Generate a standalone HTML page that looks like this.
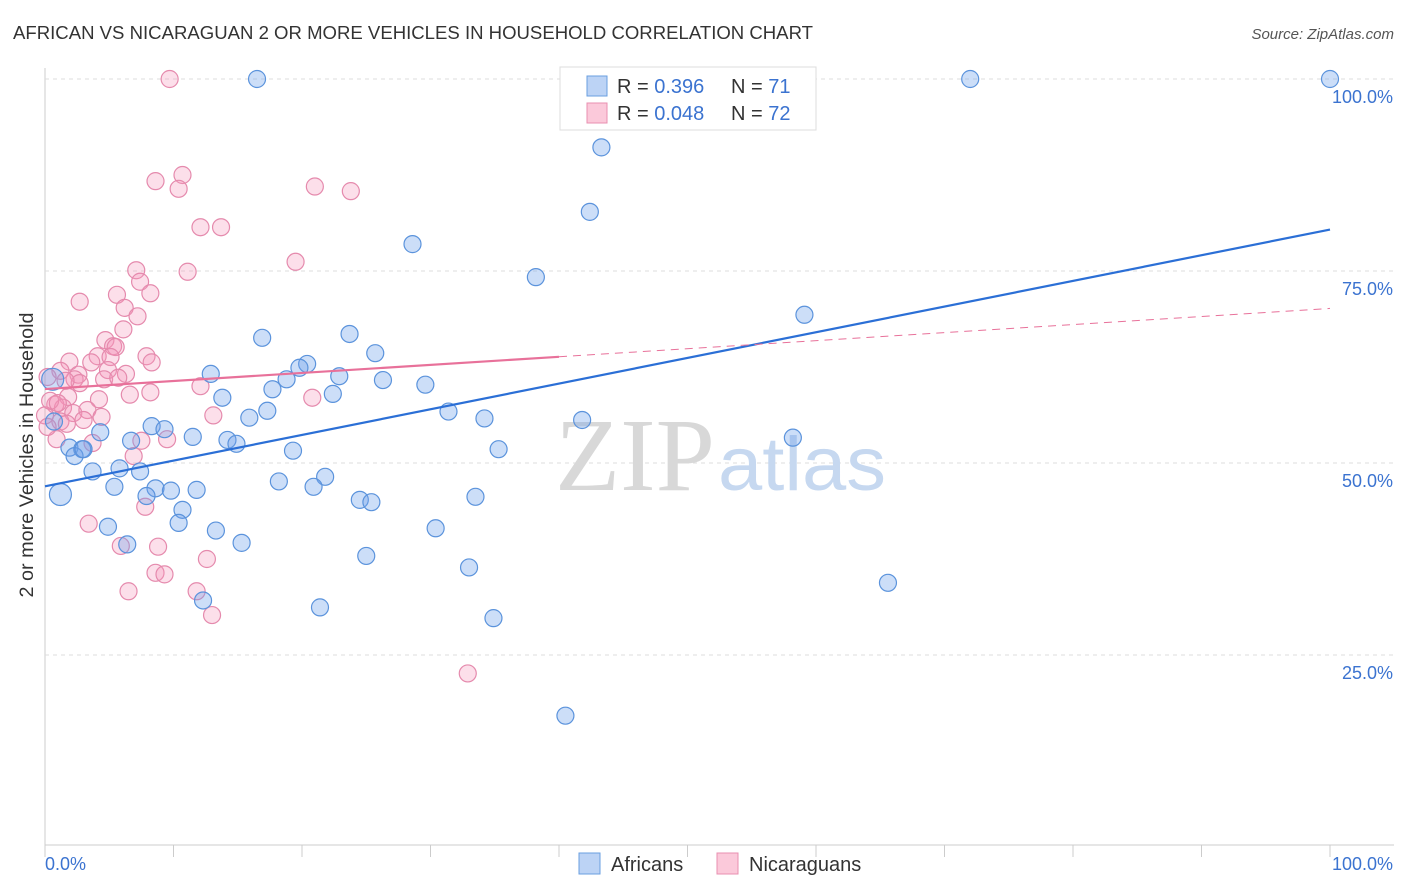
<!DOCTYPE html>
<html><head><meta charset="utf-8"><style>
body{margin:0;background:#fff;font-family:"Liberation Sans",sans-serif}
svg{display:block}
</style></head><body>
<svg id="c" width="1406" height="892" xmlns="http://www.w3.org/2000/svg">
<text x="13" y="39" font-size="18" fill="#333" textLength="800" lengthAdjust="spacingAndGlyphs">AFRICAN VS NICARAGUAN 2 OR MORE VEHICLES IN HOUSEHOLD CORRELATION CHART</text>
<text x="1394" y="39" font-size="15" fill="#555" font-style="italic" text-anchor="end">Source: ZipAtlas.com</text>
<g id="grid"></g>
<text x="555" y="490" font-family="Liberation Serif,serif" font-size="104" fill="#d8d8d8" textLength="160" lengthAdjust="spacingAndGlyphs">ZIP</text>
<text x="718" y="490" font-size="76" fill="#c6d8f0" textLength="168" lengthAdjust="spacingAndGlyphs">atlas</text>
<g id="pts"></g>
<g id="lines"></g>
<text x="33" y="455" font-size="19" fill="#333" text-anchor="middle" textLength="285" lengthAdjust="spacingAndGlyphs" transform="rotate(-90 33 455)">2 or more Vehicles in Household</text>
<g>
<rect x="560" y="67" width="256" height="63" fill="#fff" stroke="#ddd"/>
<rect x="587" y="76" width="20" height="20" fill="#bcd3f5" stroke="#6a9fe0"/>
<rect x="587" y="103" width="20" height="20" fill="#fbc9da" stroke="#e88fb0"/>
<text x="617" y="93" font-size="20" fill="#333">R = <tspan fill="#3b73d0">0.396</tspan><tspan x="731">N = </tspan><tspan fill="#3b73d0">71</tspan></text>
<text x="617" y="120" font-size="20" fill="#333">R = <tspan fill="#3b73d0">0.048</tspan><tspan x="731">N = </tspan><tspan fill="#3b73d0">72</tspan></text>
</g>
<g>
<rect x="579" y="853" width="21" height="21" fill="#bcd3f5" stroke="#6a9fe0"/>
<text x="611" y="871" font-size="20" fill="#333">Africans</text>
<rect x="717" y="853" width="21" height="21" fill="#fbc9da" stroke="#e88fb0"/>
<text x="749" y="871" font-size="20" fill="#333">Nicaraguans</text>
</g>
</svg>
<script>
const xTicks=[0,10,20,30,40,50,60,70,80,90,100];
const yTicks=[25,50,75,100];
const afrX=[16.5,72,100,43.3,42.4,28.6,38.2,16.9,23.7,25.7,59.1,12.9,20.4,19.8,22.9,26.3,18.8,17.7,29.6,22.4,13.8,17.3,15.9,31.4,34.2,41.8,0.6,0.7,11.5,14.2,14.9,6.7,8.3,9.3,19.3,58.2,35.3,4.3,1.9,2.9,2.3,5.8,7.4,3.7,5.4,8.6,9.8,11.8,7.9,18.2,21.8,20.9,24.5,25.4,33.5,1.2,10.7,10.4,4.9,13.3,15.3,6.4,30.4,25,33,65.6,12.3,21.4,34.9,40.5,3];
const afrY=[100,100,100,91.1,82.7,78.5,74.2,66.3,66.8,64.3,69.3,61.6,62.9,62.4,61.3,60.8,60.9,59.6,60.2,59,58.5,56.8,55.9,56.7,55.8,55.6,60.9,55.4,53.4,53,52.5,52.9,54.8,54.4,51.6,53.3,51.8,54,52,51.8,50.9,49.3,48.9,48.9,46.9,46.7,46.4,46.5,45.7,47.6,48.2,46.9,45.2,44.9,45.6,45.9,43.9,42.2,41.7,41.2,39.6,39.4,41.5,37.9,36.4,34.4,32.1,31.2,29.8,17.1,51.8];
const nicX=[9.7,10.7,8.6,10.4,21,23.8,12.1,13.7,19.5,7.1,11.1,7.4,5.6,8.2,2.7,6.2,7.2,6.1,4.7,5.3,5.5,7.9,4.1,1.9,3.6,5.1,8.3,4.9,1.2,2.6,6.3,4.6,5.7,0.2,12.1,2.3,8.2,6.6,1.8,4.2,0.8,1.4,2.2,3.3,4.4,13.1,20.8,1.2,3,0,7.5,9.5,3.7,0.9,6.9,7.8,3.4,5.9,8.8,12.6,8.6,9.3,6.5,11.8,13,32.9,0.4,0.2,1.7,1,2.7,1.6];
const nicY=[100,87.5,86.7,85.7,86,85.4,80.7,80.7,76.2,75.1,74.9,73.6,71.9,72.1,71,70.2,69.1,67.4,66,65.2,65.1,63.9,63.9,63.2,63.1,63.8,63.1,62.1,62,61.5,61.6,60.9,61.1,61.2,60,60.9,59.2,58.9,58.6,58.3,57.6,57.2,56.5,56.9,56,56.2,58.5,55.4,55.6,56.2,52.9,53.1,52.6,53.1,50.9,44.3,42.1,39.2,39.1,37.5,35.7,35.5,33.3,33.3,30.2,22.6,58.1,54.7,55.1,57.8,60.4,60.7];
const X=v=>45+v*12.85, Y=v=>847-v*7.68;
const NS="http://www.w3.org/2000/svg";
function mk(t,a,p){const e=document.createElementNS(NS,t);for(const k in a)e.setAttribute(k,a[k]);p.appendChild(e);return e;}
const g=document.getElementById('grid');
mk('line',{x1:45,y1:845,x2:1394,y2:845,stroke:'#ccc'},g);
mk('line',{x1:45,y1:68,x2:45,y2:845,stroke:'#ccc'},g);
xTicks.forEach(t=>{const l=mk('line',{x1:X(t),y1:845,x2:X(t),y2:857,stroke:'#ccc'},g);

});
yTicks.forEach(t=>{const l=mk('line',{x1:45,y1:Y(t),x2:1394,y2:Y(t),stroke:'#ddd','stroke-dasharray':'4 4'},g);


const tx=mk('text',{x:1393,y:Y(t)+24,'font-size':18,fill:'#3b73d0','text-anchor':'end'},g);tx.textContent=t.toFixed(1)+'%';

});
const x0=mk('text',{x:45,y:870,'font-size':18,fill:'#3b73d0'},g);x0.textContent='0.0%';


const x1=mk('text',{x:1393,y:870,'font-size':18,fill:'#3b73d0','text-anchor':'end'},g);x1.textContent='100.0%';


const P=document.getElementById('pts');
nicX.forEach((x,i)=>{const c=mk('circle',{cx:X(x),cy:Y(nicY[i]),r:8.5,fill:'rgba(244,150,185,0.3)',stroke:'#e58aad','stroke-width':1.2},P);

});
afrX.forEach((x,i)=>{const c=mk('circle',{cx:X(x),cy:Y(afrY[i]),r:i==26||i==55?11:8.5,fill:'rgba(110,160,235,0.35)',stroke:'#5b93dc','stroke-width':1.2},P);

});
const L=document.getElementById('lines');
function fit(xs,ys){const n=xs.length;let mx=0,my=0;xs.forEach((x,i)=>{mx+=x;my+=ys[i]});mx/=n;my/=n;let sxy=0,sxx=0;xs.forEach((x,i)=>{sxy+=(x-mx)*(ys[i]-my);sxx+=(x-mx)**2});const b=sxy/sxx;return [my-b*mx,b];}
const [aa,ab]=fit(afrX,afrY),[na,nb]=fit(nicX,nicY);
const bl=mk('line',{x1:X(0),y1:Y(aa),x2:X(100),y2:Y(aa+ab*100),stroke:'#2b6fd6','stroke-width':2.2},L);


const pl=mk('line',{x1:X(0),y1:Y(na),x2:X(40),y2:Y(na+nb*40),stroke:'#e8719a','stroke-width':2.2},L);


const pd=mk('line',{x1:X(40),y1:Y(na+nb*40),x2:X(100),y2:Y(na+nb*100),stroke:'#e8719a','stroke-width':1,'stroke-dasharray':'8 6'},L);


</script>
</body></html>
